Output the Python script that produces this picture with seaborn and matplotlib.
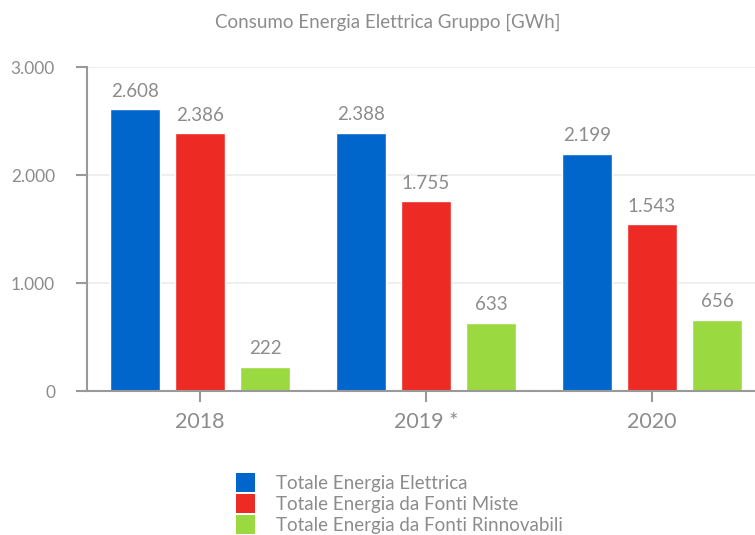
import pandas as pd
import matplotlib.pyplot as plt
import seaborn as sns
from matplotlib.patches import Patch

years = ["2018", "2019 *", "2020"]
series = ["Totale Energia Elettrica", "Totale Energia da Fonti Miste", "Totale Energia da Fonti Rinnovabili"]
elettrica = [2608, 2388, 2199]
miste = [2386, 1755, 1543]
rinnovabili = [222, 633, 656]
colors = ["#0066cc", "#ee2a24", "#9bd941"]
gray = "#8c8c8c"

df = pd.DataFrame({
    "anno": years * 3,
    "serie": [series[0]] * 3 + [series[1]] * 3 + [series[2]] * 3,
    "gwh": elettrica + miste + rinnovabili,
})

sns.set_theme(style="white")
plt.rcParams["font.family"] = ["Lato", "DejaVu Sans"]

fig = plt.figure(figsize=(7.55, 5.35), dpi=100)
ax = fig.add_axes([87 / 755, 1 - 391 / 535, 678 / 755, (391 - 67) / 535])

sns.barplot(data=df, x="anno", y="gwh", hue="serie", palette=colors,
            width=0.863, gap=0.23, saturation=1, legend=False, ax=ax)

def fmt(v):
    return f"{v:,.0f}".replace(",", ".")

for cont in ax.containers:
    for bar in cont:
        h = bar.get_height()
        ax.annotate(fmt(h), (bar.get_x() + bar.get_width() / 2, h),
                    xytext=(0, 7), textcoords="offset points",
                    ha="center", va="bottom", fontsize=13.5, color=gray)

ax.set_ylim(0, 3000)
ax.set_xlim(-0.5, 2.5)
ax.set_yticks([0, 1000, 2000, 3000])
ax.set_yticklabels([fmt(v) for v in [0, 1000, 2000, 3000]])
ax.yaxis.grid(True, color="#ececec", linewidth=1.2)
ax.set_axisbelow(True)
ax.set_xlabel("")
ax.set_ylabel("")
for s in ["top", "right"]:
    ax.spines[s].set_visible(False)
for s in ["left", "bottom"]:
    ax.spines[s].set_color("#999999")
    ax.spines[s].set_linewidth(1.5)
ax.tick_params(axis="y", length=8, width=1.5, color="#999999", labelsize=12.5,
               labelcolor=gray, pad=15, left=True)
ax.tick_params(axis="x", length=8, width=1.5, color="#999999", labelsize=15.5,
               labelcolor=gray, pad=7, bottom=True)

fig.text(388 / 755, 1 - 22 / 535, "Consumo Energia Elettrica Gruppo [GWh]",
         ha="center", va="center", fontsize=13.5, color=gray)

handles = [Patch(facecolor=c, edgecolor="none") for c in colors]
fig.legend(handles, series, loc="upper left", bbox_to_anchor=(236 / 755, 1 - 473 / 535),
           frameon=False, fontsize=13.5, labelcolor=gray, handlelength=1.0,
           handleheight=1.18, labelspacing=0.12, handletextpad=1.15, borderpad=0,
           borderaxespad=0)

fig.savefig("out.png", dpi=100)
